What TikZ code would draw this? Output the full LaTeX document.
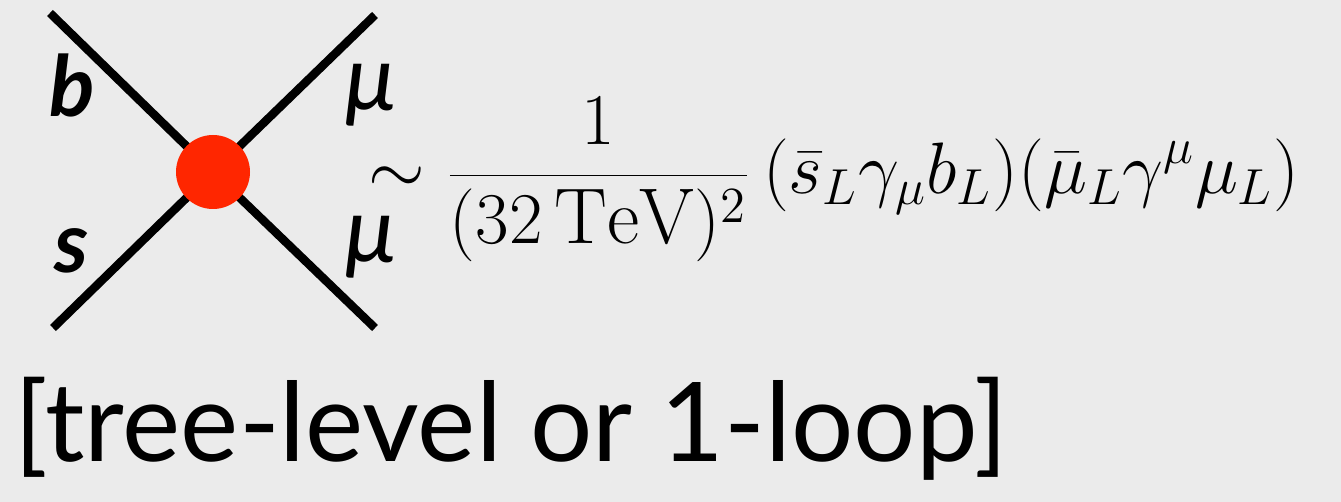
\documentclass[tikz,border=0pt]{standalone}
\usepackage{fontspec}
\newfontfamily\slidefont{Lato}
\usetikzlibrary{positioning}
\definecolor{SlideGray}{HTML}{EBEBEB}
\definecolor{VertexRed}{HTML}{FF2600}
\tikzset{
  leg/.style={line width=2.4pt, black},
  vertex/.style={circle, fill=VertexRed, minimum size=0.74cm, inner sep=0pt},
  quark/.style={font=\slidefont\fontsize{24}{27}\selectfont\bfseries\itshape,
                inner sep=0pt},
  lepton/.style={font=\slidefont\fontsize{26}{29}\selectfont\itshape,
                 inner sep=0pt},
  formula/.style={font=\fontsize{22.5}{27}\selectfont, inner sep=0pt,
                  anchor=base west},
  caption/.style={font=\slidefont\fontsize{31.3}{35}\selectfont, inner sep=0pt,
                  anchor=base west},
}

\begin{document}
\begin{tikzpicture}
  % slide background, fixes the bounding box
  \fill[SlideGray] (0,0) rectangle (13.41,5.02);

  % four-fermion vertex
  \coordinate (bleg)  at (0.50,4.89);
  \coordinate (sleg)  at (0.53,1.74);
  \coordinate (muup)  at (3.75,4.87);
  \coordinate (mudn)  at (3.75,1.74);
  \coordinate (v) at (2.13,3.30);

  \draw[leg] (bleg) -- (v) -- (mudn);
  \draw[leg] (sleg) -- (v) -- (muup);
  \node[vertex] (vtx) at (v) {};

  % particle labels
  \node[quark]  (blab)  at (0.72,4.17) {b};
  \node[quark]  (slab)  at (0.72,2.51) {s};
  \node[lepton] (mulab) at (3.71,4.07) {μ};
  \node[lepton] (mulab2) at (3.71,2.55) {μ};

  % effective operator
  \node[formula] (op) at (3.68,3.085)
    {$\displaystyle \sim \frac{1}{(32\,\mathrm{TeV})^2}\,
      (\bar s_L\gamma_\mu b_L)(\bar\mu_L\gamma^\mu\mu_L)$};

  \node[caption] (cap) at (0.14,0.40) {[tree-level or 1-loop]};
\end{tikzpicture}
\end{document}
